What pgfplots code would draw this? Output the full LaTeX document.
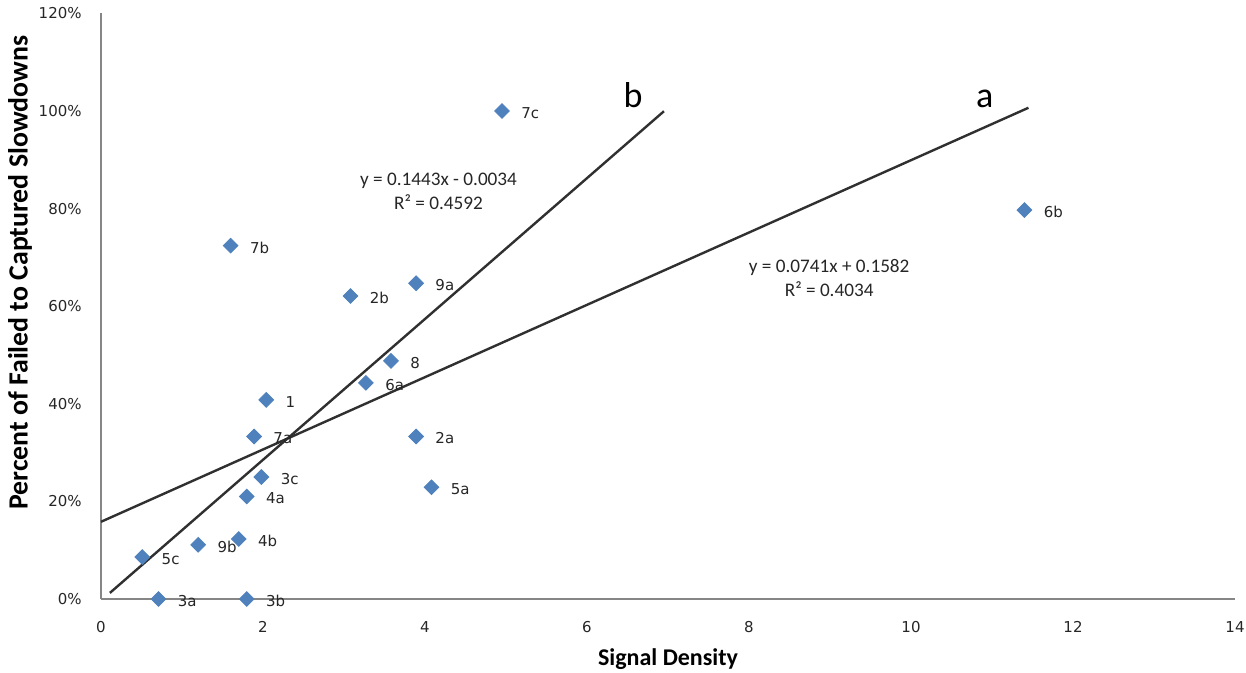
\documentclass[border=0pt]{standalone}
\usepackage{pgfplots}
\pgfplotsset{compat=1.18}
\usepackage{fontspec}
\setmainfont{Carlito}
\newfontfamily\tah{DejaVu Sans}
\definecolor{mk}{HTML}{4F81BD}
\definecolor{tl}{HTML}{303030}
\definecolor{axc}{HTML}{868686}
\pgfplotstableread{
x y lab
0.51 0.086 5c
0.71 0.000 3a
1.20 0.111 9b
1.70 0.123 4b
1.80 0.000 3b
1.80 0.210 4a
1.98 0.250 3c
1.89 0.333 7a
2.04 0.408 1
1.60 0.724 7b
3.08 0.621 2b
3.89 0.647 9a
3.58 0.488 8
3.27 0.443 6a
3.89 0.333 2a
4.08 0.229 5a
4.95 1.000 7c
11.40 0.797 6b
}\pts
\begin{document}
\begin{tikzpicture}
\path[use as bounding box] (0,0) rectangle (623pt,336.5pt);
\begin{axis}[
  at={(50.5pt,37pt)}, anchor=south west,
  scale only axis, width=567pt, height=292.8pt,
  xmin=0, xmax=14, ymin=0, ymax=1.2,
  axis x line*=bottom, axis y line*=left,
  axis line style={axc, line width=0.8pt},
  xtick={0,2,4,6,8,10,12,14},
  ytick={0,0.2,0.4,0.6,0.8,1.0,1.2},
  yticklabels={0\%,20\%,40\%,60\%,80\%,100\%,120\%},
  /pgf/number format/assume math mode=true,
  major tick length=0pt,
  tick label style={font=\tah\fontsize{7.5}{9}\selectfont, text=black!85},
  yticklabel style={anchor=east, inner sep=0pt, xshift=-9.5pt},
  xticklabel style={anchor=north, inner sep=0pt, yshift=-11pt},
  xlabel={Signal Density},
  xlabel style={font=\bfseries\fontsize{12}{14}\selectfont, at={(axis description cs:0.5,0)}, anchor=center, yshift=-30pt},
  ylabel={Percent of Failed to Captured Slowdowns},
  ylabel style={font=\bfseries\fontsize{13.9}{16}\selectfont, at={(axis description cs:-0.0714,0.557)}, anchor=center},
  clip=false,
]
\addplot[tl, line width=1.2pt] coordinates {(0,0.1582) (11.45,1.0066)};
\addplot[tl, line width=1.2pt] coordinates {(0.11,0.0125) (6.95,0.9995)};
\addplot[only marks, mark=square*, mark size=2.6pt,
  mark options={rotate=45, fill=mk, draw=mk},
  nodes near coords, point meta=explicit symbolic,
  every node near coord/.append style={anchor=west, inner sep=0pt, xshift=9.5pt, yshift=-1pt, font=\tah\fontsize{7.5}{9}\selectfont, text=black!85}
] table[x=x, y=y, meta=lab] {\pts};
\node[font=\fontsize{9.6}{12}\selectfont, align=center, text=black!85] at (axis cs:4.167,0.836) {y = 0.1443x - 0.0034\\R² = 0.4592};
\node[font=\fontsize{9.6}{12}\selectfont, align=center, text=black!85] at (axis cs:8.99,0.658) {y = 0.0741x + 0.1582\\R² = 0.4034};
\node[font=\fontsize{18}{20}\selectfont] at (axis cs:6.57,1.033) {b};
\node[font=\fontsize{18}{20}\selectfont] at (axis cs:10.91,1.025) {a};
\end{axis}
\end{tikzpicture}
\end{document}
